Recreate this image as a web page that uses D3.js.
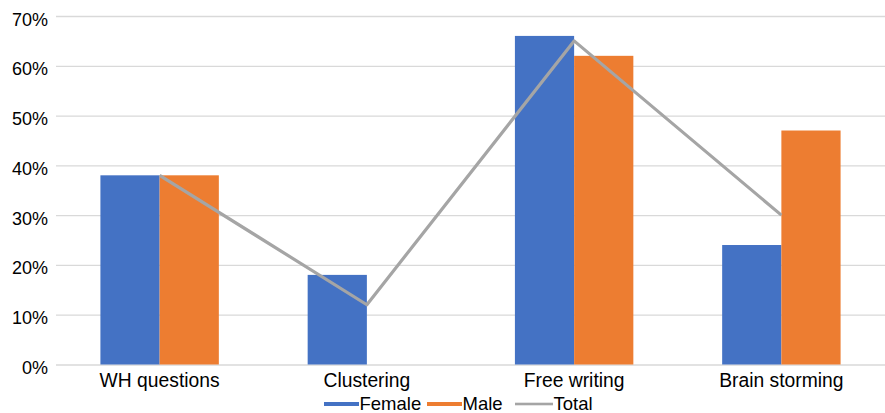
<!DOCTYPE html>
<html>
<head>
<meta charset="utf-8">
<script src="https://cdn.jsdelivr.net/npm/d3@7"></script>
<style>
  html, body { margin: 0; padding: 0; background: #fff; }
  svg { display: block; font-family: "Liberation Sans", Arial, sans-serif; }
</style>
</head>
<body>
<svg id="chart" width="885" height="413"></svg>
<script>
// Data
const categories = ["WH questions", "Clustering", "Free writing", "Brain storming"];
const female = [0.38, 0.18, 0.66, 0.24];
const male = [0.38, 0, 0.62, 0.47];
const total = [0.38, 0.12, 0.65, 0.30];
const yTicks = [0, 0.1, 0.2, 0.3, 0.4, 0.5, 0.6, 0.7];
const seriesNames = ["Female", "Male", "Total"];
const colors = { Female: "#4472C4", Male: "#ED7D31", Total: "#A5A5A5" };

const svg = d3.select("#chart");
const margin = { left: 56, right: 0, top: 16, bottom: 48.5 };
const W = 885, H = 413;

const x = d3.scaleBand()
  .domain(categories)
  .range([margin.left, W - margin.right])
  .paddingInner(1.5 / 3.5)
  .paddingOuter(0.75 / 3.5);

const xSub = d3.scaleBand()
  .domain(["Female", "Male"])
  .range([0, x.bandwidth()]);

const y = d3.scaleLinear()
  .domain([0, 0.7])
  .range([H - margin.bottom, margin.top]);

// Gridlines and y-axis labels
const yAxis = d3.axisLeft(y)
  .tickValues(yTicks)
  .tickFormat(d3.format(".0%"))
  .tickSize(-(W - margin.left - margin.right))
  .tickPadding(8);

const gy = svg.append("g")
  .attr("transform", `translate(${margin.left},0)`)
  .call(yAxis);
gy.select(".domain").remove();
gy.selectAll(".tick line").attr("stroke", "#d9d9d9").attr("stroke-width", 1.3);
gy.selectAll(".tick text")
  .attr("font-size", 18)
  .attr("fill", "#000")
  .attr("dy", "0.5em");

// Bars
const barData = [];
categories.forEach((c, i) => {
  barData.push({ cat: c, key: "Female", v: female[i] });
  barData.push({ cat: c, key: "Male", v: male[i] });
});

svg.append("g")
  .selectAll("rect")
  .data(barData.filter(d => d.v > 0))
  .join("rect")
  .attr("x", d => x(d.cat) + xSub(d.key))
  .attr("width", xSub.bandwidth())
  .attr("y", d => y(d.v))
  .attr("height", d => y(0) - y(d.v))
  .attr("fill", d => colors[d.key]);

// Total line
const line = d3.line()
  .x((d, i) => x(categories[i]) + x.bandwidth() / 2)
  .y(d => y(d));

svg.append("path")
  .datum(total)
  .attr("d", line)
  .attr("fill", "none")
  .attr("stroke", colors.Total)
  .attr("stroke-width", 3.2)
  .attr("stroke-linejoin", "round");

// Category axis
const xAxis = d3.axisBottom(x).tickSize(0).tickPadding(9);
const gx = svg.append("g")
  .attr("transform", `translate(0,${y(0)})`)
  .call(xAxis);
gx.select(".domain").remove();
gx.selectAll(".tick text")
  .attr("font-size", 19.3)
  .attr("fill", "#000");

// Legend
const legendItems = [
  { name: "Female", x: 324, w: 35, h: 4 },
  { name: "Male", x: 427, w: 35, h: 4 },
  { name: "Total", x: 515, w: 38, h: 2.6 }
];
const lg = svg.append("g").attr("transform", "translate(0,404)");
legendItems.forEach(it => {
  lg.append("rect")
    .attr("x", it.x)
    .attr("y", -it.h / 2)
    .attr("width", it.w)
    .attr("height", it.h)
    .attr("fill", colors[it.name]);
  lg.append("text")
    .attr("x", it.x + it.w + 0.5)
    .attr("y", 6)
    .attr("font-size", 18.5)
    .attr("fill", "#000")
    .text(it.name);
});
</script>
</body>
</html>
